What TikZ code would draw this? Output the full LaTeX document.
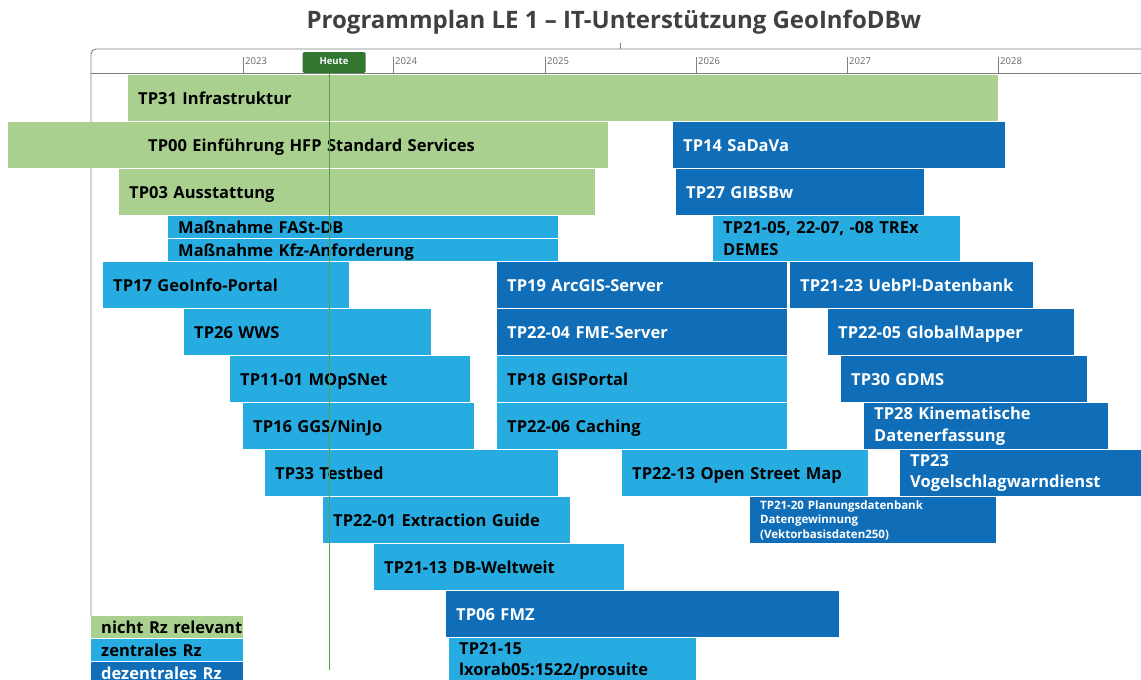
\documentclass[tikz,border=0pt]{standalone}
\usepackage{fontspec}
\setmainfont{Open Sans}
\usepackage{xcolor}
\usepackage{tikz}
\usetikzlibrary{positioning}

\definecolor{rzgreen}{HTML}{A9D08E}
\definecolor{rzlight}{HTML}{27ACE2}
\definecolor{rzdark}{HTML}{106EB8}
\definecolor{heutegreen}{HTML}{31772F}
\definecolor{todaygreen}{HTML}{55A04A}
\definecolor{titlegray}{HTML}{404040}
\definecolor{gridgray}{HTML}{7F7F7F}

\begin{document}
\begin{tikzpicture}[x=1pt,y=-1pt,
  bar/.style={anchor=north west,inner xsep=10pt,inner ysep=0pt,minimum height=46pt,align=left,text depth=0pt,
    font=\bfseries\fontsize{16.5}{21.5}\selectfont},
  twoline/.style={text depth=},
  nrz/.style={bar,fill=rzgreen,text=black},
  zrz/.style={bar,fill=rzlight,text=black},
  dzrz/.style={bar,fill=rzdark,text=white},
  halfbar/.style={minimum height=22pt},
  yearlabel/.style={anchor=west,inner sep=1pt,text=gridgray!80!black,font=\fontsize{9.5}{11}\selectfont},
  gridline/.style={draw=gridgray,line width=0.9pt}]

    \useasboundingbox (0,0) rectangle (1141,680);

    % Title
	\node [font=\bfseries\fontsize{24}{28}\selectfont,text=titlegray] at (614,22) (title) {Programmplan LE 1 – IT-Unterstützung GeoInfoDBw};

    % Time axis
	\coordinate (axisleft) at (91,616);
	\coordinate (axisright) at (1141,49);
	\draw [gridline,rounded corners=5pt] (axisleft) -- (91,49) -- (axisright);
	\draw [gridline] (91,73) -- (1141,73);
	\draw [gridline] (620,43) -- (620,49);
	\draw [gridline] (243,57) -- (243,73);
	\draw [gridline] (393,57) -- (393,73);
	\draw [gridline] (545,57) -- (545,73);
	\draw [gridline] (696,57) -- (696,73);
	\draw [gridline] (847,57) -- (847,73);
	\draw [gridline] (998,57) -- (998,73);
	\node [yearlabel] at (244,61) (y2023) {2023};
	\node [yearlabel] at (394,61) (y2024) {2024};
	\node [yearlabel] at (546,61) (y2025) {2025};
	\node [yearlabel] at (697,61) (y2026) {2026};
	\node [yearlabel] at (848,61) (y2027) {2027};
	\node [yearlabel] at (999,61) (y2028) {2028};

    % Bars
	\node [nrz,text width=850pt] at (128,75) (tp31) {TP31 Infrastruktur};
	\node [nrz,text width=580pt] at (8,122) (tp00) {\hspace*{130pt}TP00 Einführung HFP Standard Services};
	\node [dzrz,text width=312pt] at (673,122) (tp14) {TP14 SaDaVa};
	\node [nrz,text width=456pt] at (119,169) (tp03) {TP03 Ausstattung};
	\node [dzrz,text width=228pt] at (676,169) (tp27) {TP27 GIBSBw};
	\node [zrz,halfbar,text width=370pt] at (168,216) (fastdb) {Maßnahme FASt-DB};
	\node [zrz,halfbar,text width=370pt] at (168,239) (kfz) {Maßnahme Kfz-Anforderung};
	\node [zrz,twoline,text width=227pt,minimum height=45pt] at (713,216) (trex) {TP21-05, 22-07, -08 TREx\\DEMES};
	\node [zrz,text width=226pt] at (103,262) (tp17) {TP17 GeoInfo-Portal};
	\node [dzrz,text width=270pt] at (497,262) (tp19) {TP19 ArcGIS-Server};
	\node [dzrz,text width=223pt] at (790,262) (tp2123) {TP21-23 UebPl-Datenbank};
	\node [zrz,text width=227pt] at (184,309) (tp26) {TP26 WWS};
	\node [dzrz,text width=270pt] at (497,309) (tp2204) {TP22-04 FME-Server};
	\node [dzrz,text width=226pt] at (828,309) (tp2205) {TP22-05 GlobalMapper};
	\node [zrz,text width=220pt] at (230,356) (tp1101) {TP11-01 MOpSNet};
	\node [zrz,text width=270pt] at (497,356) (tp18) {TP18 GISPortal};
	\node [dzrz,text width=226pt] at (841,356) (tp30) {TP30 GDMS};
	\node [zrz,text width=211pt] at (243,403) (tp16) {TP16 GGS/NinJo};
	\node [zrz,text width=270pt] at (497,403) (tp2206) {TP22-06 Caching};
	\node [dzrz,twoline,text width=224pt] at (864,403) (tp28) {TP28 Kinematische\\Datenerfassung};
	\node [zrz,text width=273pt] at (265,450) (tp33) {TP33 Testbed};
	\node [zrz,text width=226pt] at (622,450) (tp2213) {TP22-13 Open Street Map};
	\node [dzrz,twoline,text width=221pt] at (900,450) (tp23) {TP23\\Vogelschlagwarndienst};
	\node [zrz,text width=227pt] at (323,497) (tp2201) {TP22-01 Extraction Guide};
	\node [dzrz,twoline,text width=226pt,font=\bfseries\fontsize{11.5}{14.5}\selectfont] at (750,497) (tp2120) {TP21-20 Planungsdatenbank\\Datengewinnung\\(Vektorbasisdaten250)};
	\node [zrz,text width=230pt] at (374,544) (tp2113) {TP21-13 DB-Weltweit};
	\node [dzrz,text width=373pt] at (446,591) (tp06) {TP06 FMZ};
	\node [zrz,twoline,text width=227pt] at (449,638) (tp2115) {TP21-15\\lxorab05:1522/prosuite};

    % Legend
	\node [nrz,halfbar,text width=132pt] at (91,616) (legnrz) {\mbox{nicht Rz relevant}};
	\node [zrz,halfbar,text width=132pt] at (91,639) (legzrz) {zentrales Rz};
	\node [dzrz,halfbar,text width=132pt] at (91,662) (legdzrz) {dezentrales Rz};

    % Today marker
	\node [fill=heutegreen,text=white,rounded corners=1.5pt,minimum width=63pt,minimum height=21pt,inner sep=0pt,
	  font=\bfseries\fontsize{9.5}{11}\selectfont] at (334,62.5) (heute) {\raisebox{2.5pt}{Heute}};
	\coordinate (todaytop) at (329,73);
	\coordinate (todayend) at (329,670);
	\draw [todaygreen,line width=1pt] (todaytop) -- (todayend);

\end{tikzpicture}
\end{document}
